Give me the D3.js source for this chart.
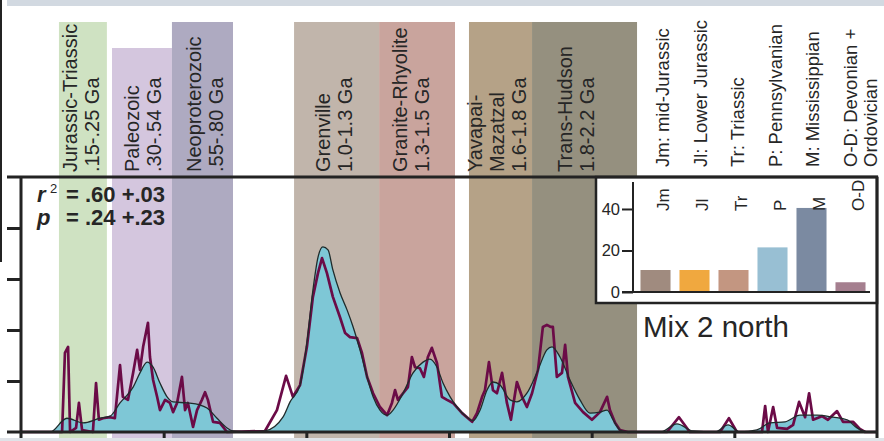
<!DOCTYPE html>
<html>
<head>
<meta charset="utf-8">
<script src="https://cdn.jsdelivr.net/npm/d3@7"></script>
<style>
  html, body { margin: 0; padding: 0; background: #fff; }
  svg { display: block; }
  text { font-family: "Liberation Sans", Arial, Helvetica, sans-serif; fill: #262626; }
</style>
</head>
<body>
<svg id="chart" width="884" height="441"></svg>
<script>
// ---- data ----
const ageTicks = [0.5, 1, 1.5, 2, 2.5];
const densityTicks = [1, 2, 3, 4];

// Crustal provinces (shaded age windows, Ga)
const provinceLines = [
  ["Jurassic-Triassic", ".15-.25 Ga"],
  ["Paleozoic", ".30-.54 Ga"],
  ["Neoproterozoic", ".55-.80 Ga"],
  ["Grenville", "1.0-1.3 Ga"],
  ["Granite-Rhyolite", "1.3-1.5 Ga"],
  ["Yavapai-", "Mazatzal", "1.6-1.8 Ga"],
  ["Trans-Hudson", "1.8-2.2 Ga"]
];
const provinceStart = [0.133, 0.319, 0.529, 0.957, 1.255, 1.570, 1.791];
const provinceEnd   = [0.301, 0.529, 0.743, 1.255, 1.521, 1.791, 2.159];

// Smoothed density (KDE)
const kdeAge = [0, 0.102, 0.161, 0.217, 0.277, 0.312, 0.347, 0.393, 0.417, 0.442, 0.463, 0.487, 0.512, 0.533, 0.582, 0.627, 0.652, 0.687, 0.722, 0.743, 0.803, 0.855, 0.918, 0.943, 0.978, 1.002, 1.023, 1.041, 1.058, 1.076, 1.093, 1.118, 1.143, 1.164, 1.188, 1.213, 1.234, 1.258, 1.283, 1.304, 1.339, 1.374, 1.409, 1.433, 1.458, 1.479, 1.504, 1.528, 1.563, 1.584, 1.609, 1.633, 1.654, 1.679, 1.714, 1.738, 1.773, 1.808, 1.843, 1.861, 1.889, 1.924, 1.959, 1.994, 2.029, 2.054, 2.075, 2.099, 2.127, 2.240, 2.299, 2.355, 2.432, 2.478, 2.520, 2.579, 2.625, 2.678, 2.730, 2.790, 2.846, 2.895, 2.930, 2.951, 2.975, 3.0];
const kdeDensity = [0, 0, 0.27, 0.18, 0.27, 0.31, 0.57, 0.88, 1.16, 1.37, 1.27, 0.96, 0.69, 0.59, 0.57, 0.53, 0.47, 0.27, 0.08, 0.02, 0, 0.02, 0.29, 0.59, 0.92, 1.75, 2.78, 3.43, 3.63, 3.57, 3.18, 2.73, 2.39, 2.06, 1.61, 1.08, 0.69, 0.43, 0.33, 0.43, 0.76, 1.16, 1.37, 1.43, 1.27, 0.96, 0.69, 0.49, 0.29, 0.22, 0.43, 0.82, 0.98, 0.92, 0.63, 0.59, 0.76, 1.16, 1.61, 1.67, 1.47, 1.02, 0.63, 0.37, 0.39, 0.43, 0.24, 0.04, 0, 0, 0.16, 0.02, 0, 0.14, 0, 0.04, 0.18, 0.2, 0.33, 0.33, 0.29, 0.24, 0.08, 0.02, 0, 0];

// Probability density plot (PDP)
const pdpAge = [0, 0.144, 0.154, 0.165, 0.172, 0.193, 0.203, 0.214, 0.252, 0.263, 0.273, 0.287, 0.312, 0.329, 0.347, 0.357, 0.375, 0.393, 0.407, 0.417, 0.428, 0.445, 0.452, 0.463, 0.477, 0.487, 0.505, 0.522, 0.533, 0.547, 0.564, 0.575, 0.585, 0.603, 0.617, 0.634, 0.645, 0.655, 0.673, 0.697, 0.722, 0.855, 0.897, 0.929, 0.953, 0.978, 1.002, 1.023, 1.041, 1.055, 1.072, 1.093, 1.118, 1.136, 1.153, 1.178, 1.195, 1.213, 1.234, 1.258, 1.283, 1.300, 1.311, 1.321, 1.339, 1.356, 1.370, 1.381, 1.398, 1.412, 1.426, 1.440, 1.458, 1.475, 1.493, 1.514, 1.546, 1.581, 1.598, 1.616, 1.626, 1.640, 1.654, 1.668, 1.686, 1.703, 1.717, 1.738, 1.756, 1.773, 1.791, 1.812, 1.829, 1.843, 1.857, 1.864, 1.878, 1.896, 1.907, 1.917, 1.942, 1.970, 2.001, 2.029, 2.054, 2.064, 2.082, 2.099, 2.127, 2.264, 2.306, 2.344, 2.450, 2.481, 2.509, 2.597, 2.608, 2.618, 2.636, 2.650, 2.685, 2.706, 2.727, 2.748, 2.762, 2.776, 2.807, 2.828, 2.860, 2.881, 2.916, 2.940, 2.958, 3.0];
const pdpDensity = [0, 0, 1.55, 1.67, 0, 0.08, 0.57, 0.04, 0, 0.96, 0.24, 0.27, 0.29, 0.27, 1.31, 0.69, 0.63, 1.16, 1.61, 1.22, 1.67, 2.14, 1.47, 1.02, 0.69, 0.43, 0.63, 0.57, 0.39, 0.57, 1.08, 0.43, 0.57, 0.10, 0.43, 0.63, 0.78, 0.63, 0.20, 0.18, 0, 0.02, 0.43, 1.10, 0.69, 0.92, 1.67, 2.65, 3.12, 3.41, 3.12, 2.65, 2.25, 1.94, 1.86, 1.84, 1.55, 1.08, 0.76, 0.49, 0.33, 0.57, 0.82, 0.63, 0.76, 0.88, 1.47, 1.27, 1.25, 1.08, 1.47, 1.65, 1.35, 0.69, 0.63, 0.57, 0.37, 0.20, 0.37, 0.69, 0.82, 1.37, 0.82, 0.76, 1.16, 0.57, 0.24, 0.98, 0.69, 0.49, 0.76, 1.22, 2.06, 2.10, 2.06, 2.06, 1.08, 1.16, 1.71, 1.08, 0.57, 0.39, 0.24, 0.39, 0.69, 0.43, 0.18, 0.04, 0, 0, 0.29, 0, 0, 0.27, 0, 0, 0.51, 0, 0.49, 0.08, 0.06, 0.14, 0.59, 0.29, 0.76, 0.24, 0.31, 0.24, 0.41, 0.20, 0.20, 0.06, 0, 0];

// Sediment-source mixture (inset bars, %)
const sourceCodes = ["Jm", "Jl", "Tr", "P", "M", "O-D"];
const sourcePct = [10.6, 10.6, 10.6, 21.5, 40.5, 4.7];
const sourceTicks = [0, 20, 40];
const sourceNames = [
  ["Jm: mid-Jurassic"], ["Jl: Lower Jurassic"], ["Tr: Triassic"],
  ["P: Pennsylvanian"], ["M: Mississippian"], ["O-D: Devonian +", "Ordovician"]
];

const fitStats = [["r", "2", "= .60 +.03"], ["p", "", "= .24 +.23"]];
const panelTitle = "Mix 2 north";

// ---- styling / layout ----
const provinceColors = ["#cfe2c2", "#d4c6de", "#aeaac1", "#c1b5ab", "#c9a49d", "#b5a287", "#95907f"];
const provinceTopY = [22, 48, 22, 22, 22, 22, 22];
const provinceNudge = [-2, 1, 2.5, -2.5, -6, -3.5, -8.5];
const sourceColors = ["#a08b7f", "#f0a83f", "#c39681", "#98bfd3", "#7b8aa1", "#a57f8f"];
const ink = "#232323";

const svg = d3.select("#chart");
const W = 884, H = 441;

const x = d3.scaleLinear().domain([0, 3]).range([21, 877]);
const y = d3.scaleLinear().domain([0, 5]).range([432, 177]);

svg.append("rect").attr("width", W).attr("height", H).attr("fill", "#fff");
// thin strip along the top edge
svg.append("rect").attr("x", 7).attr("y", 0).attr("width", W - 7).attr("height", 6).attr("fill", "#d2d9e1");

// province bands
const provinces = provinceLines.map((lines, i) => ({
  lines, a: provinceStart[i], b: provinceEnd[i], color: provinceColors[i], top: provinceTopY[i], nudge: provinceNudge[i]
}));
svg.append("g").selectAll("rect").data(provinces).join("rect")
  .attr("x", d => x(d.a)).attr("width", d => x(d.b) - x(d.a))
  .attr("y", d => d.top).attr("height", d => 438 - d.top)
  .attr("fill", d => d.color);

// province labels, rotated, each block centred on its band
const labFont = 20, labLH = 22, capH = 0.716 * labFont, labBottom = 172;
const labG = svg.append("g");
provinces.forEach(d => {
  const n = d.lines.length;
  const blockW = capH + (n - 1) * labLH;
  const cx = (x(d.a) + x(d.b)) / 2 + d.nudge;
  const firstBase = cx - blockW / 2 + capH;
  d.lines.forEach((t, j) => {
    labG.append("text")
      .attr("transform", `translate(${firstBase + j * labLH},${labBottom}) rotate(-90)`)
      .attr("font-size", labFont)
      .text(t);
  });
});

// source legend, rotated
const legG = svg.append("g");
const legX = d3.scaleLinear().domain([0, 5]).range([669, 857]);
sourceNames.forEach((lines, i) => {
  lines.forEach((t, j) => {
    legG.append("text")
      .attr("transform", `translate(${legX(i) + j * 20},167) rotate(-90)`)
      .attr("font-size", 18.5)
      .text(t);
  });
});

// density curves
const kde = d3.zip(kdeAge, kdeDensity);
const pdp = d3.zip(pdpAge, pdpDensity);

svg.append("path").datum(kde)
  .attr("fill", "#7ec7d6")
  .attr("d", d3.area().x(d => x(d[0])).y0(y(0)).y1(d => y(d[1])).curve(d3.curveMonotoneX));

svg.append("path").datum(pdp)
  .attr("fill", "none").attr("stroke", "#6b0b47").attr("stroke-width", 2.7)
  .attr("stroke-linejoin", "round")
  .attr("d", d3.line().x(d => x(d[0])).y(d => y(d[1])));

svg.append("path").datum(kde)
  .attr("fill", "none").attr("stroke", "#1f2b2b").attr("stroke-width", 1.3)
  .attr("d", d3.line().x(d => x(d[0])).y(d => y(d[1])).curve(d3.curveMonotoneX));

// inset bar chart
const inset = svg.append("g");
inset.append("rect").attr("x", 596).attr("y", 177).attr("width", 281).attr("height", 126)
  .attr("fill", "#fff").attr("stroke", ink).attr("stroke-width", 2.5);

const bx = d3.scaleBand().domain(sourceCodes).range([636, 870]).paddingInner(0.23).paddingOuter(0.115);
const by = d3.scaleLinear().domain([0, 53]).range([292, 182]);

inset.append("g").selectAll("rect").data(sourceCodes).join("rect")
  .attr("x", d => bx(d)).attr("width", bx.bandwidth())
  .attr("y", (d, i) => by(sourcePct[i])).attr("height", (d, i) => by(0) - by(sourcePct[i]))
  .attr("fill", (d, i) => sourceColors[i]);

inset.append("g").selectAll("text").data(sourceCodes).join("text")
  .attr("transform", d => `translate(${bx(d) + bx.bandwidth() / 2 + 13},211) rotate(-90)`)
  .attr("font-size", 17)
  .text(d => d);

const insetAxis = inset.append("g").attr("transform", "translate(633,0)")
  .call(d3.axisLeft(by).tickValues(sourceTicks).tickSize(11).tickPadding(2));
insetAxis.select(".domain").remove();
insetAxis.selectAll(".tick line").attr("stroke", ink).attr("stroke-width", 2);
insetAxis.selectAll(".tick text").attr("font-size", 16.5).attr("fill", ink)
  .attr("font-family", "'Liberation Sans', Arial, sans-serif");
inset.append("line").attr("x1", 633).attr("x2", 633).attr("y1", by(53)).attr("y2", by(0))
  .attr("stroke", ink).attr("stroke-width", 2);
inset.append("line").attr("x1", 622).attr("x2", 870).attr("y1", by(0)).attr("y2", by(0))
  .attr("stroke", ink).attr("stroke-width", 2);

// main frame and axes
const frame = svg.append("g").attr("stroke", ink).attr("stroke-width", 3);
frame.append("line").attr("x1", 7).attr("x2", 878).attr("y1", 177).attr("y2", 177);
frame.append("line").attr("x1", 877).attr("x2", 877).attr("y1", 177).attr("y2", H);
frame.append("line").attr("x1", x(0)).attr("x2", x(0)).attr("y1", 177).attr("y2", H);
frame.append("line").attr("x1", 7).attr("x2", 878).attr("y1", y(0)).attr("y2", y(0));

const yAxis = svg.append("g").attr("transform", `translate(${x(0)},0)`)
  .call(d3.axisLeft(y).tickValues(densityTicks).tickSize(14).tickFormat(""));
yAxis.select(".domain").remove();
yAxis.selectAll(".tick line").attr("stroke", ink).attr("stroke-width", 3);

const xAxis = svg.append("g").attr("transform", `translate(0,${y(0)})`)
  .call(d3.axisBottom(x).tickValues(ageTicks).tickSize(10).tickFormat(""));
xAxis.select(".domain").remove();
xAxis.selectAll(".tick line").attr("stroke", ink).attr("stroke-width", 3);

// fit statistics
const statG = svg.append("g").attr("font-weight", "bold").attr("font-size", 22);
fitStats.forEach((row, i) => {
  const base = 202 + i * 23;
  statG.append("text").attr("x", 37).attr("y", base).attr("font-style", "italic").text(row[0]);
  if (row[1]) statG.append("text").attr("x", 50).attr("y", base - 9).attr("font-size", 13).attr("font-weight", "normal").text(row[1]);
  statG.append("text").attr("x", 66).attr("y", base).text(row[2]);
});

svg.append("text").attr("x", 643).attr("y", 337).attr("font-size", 29.5).text(panelTitle);

// left edge rule and bottom strip
svg.append("line").attr("x1", 1).attr("x2", 1).attr("y1", 0).attr("y2", 262)
  .attr("stroke", ink).attr("stroke-width", 2);
svg.append("rect").attr("x", 0).attr("y", 438).attr("width", W).attr("height", 3).attr("fill", "#dfe3e8");
</script>
</body>
</html>
